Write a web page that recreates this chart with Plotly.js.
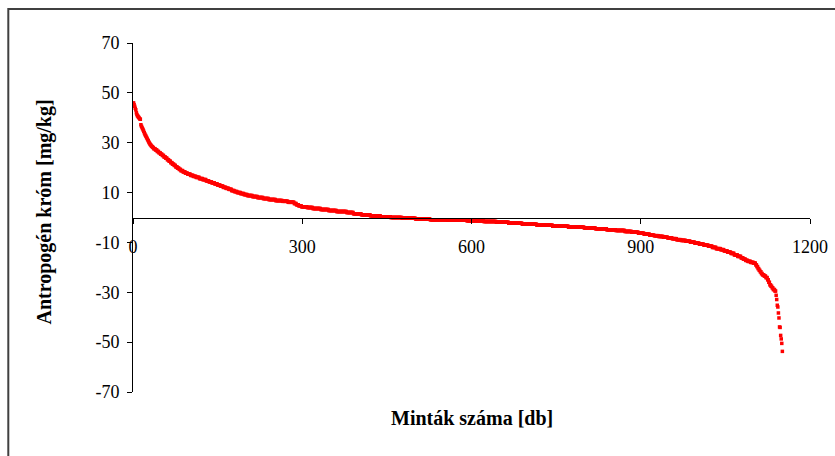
<!DOCTYPE html>
<html>
<head>
<meta charset="utf-8">
<script src="https://cdn.plot.ly/plotly-3.0.1.min.js"></script>
<style>
  html, body { margin: 0; padding: 0; background: #ffffff; }
  #chart { width: 835px; height: 456px; }
</style>
</head>
<body>
<div id="chart"></div>
<script>
// Anthropogenic chromium per sample, ordered from highest to lowest.
// The steep start is listed point by point.
const headValues = [46.0, 45.3, 44.6, 43.8, 43.2, 42.0, 41.3, 40.8, 40.5, 40.2, 39.9, 39.6,
  39.4, 37.2, 36.6, 36.1, 35.6, 35.1, 34.6, 34.0, 33.5, 33.0, 32.6, 32.1, 31.7, 31.2,
  30.8, 30.3, 29.9, 29.5, 29.2, 28.9, 28.6, 28.4, 28.2, 28.0];

// The long middle part comes in runs of equal values: level and number of samples.
const levelValues = [27.6, 27.1, 26.5, 26.0, 25.4, 24.9, 24.3, 23.8, 23.2, 22.6, 22.0, 21.4,
  20.9, 20.3, 19.8, 19.3, 18.8, 18.3, 17.8, 17.4, 16.9, 16.5, 16.1, 15.6, 15.2, 14.7, 14.3,
  13.9, 13.5, 13.0, 12.6, 12.1, 11.7, 11.3, 10.8, 10.4, 10.0, 9.6, 9.2, 8.8, 8.4, 8.0, 7.6,
  7.2, 6.8, 6.5, 6.1, 5.6, 5.1, 4.7, 4.3, 4.0, 3.6, 3.2, 2.8, 2.4, 2.0, 1.5, 1.1, 0.7, 0.3,
  0.0, -0.3, -0.6, -0.9, -1.1, -1.3, -1.6, -1.9, -2.3, -2.7, -3.1, -3.5, -3.9, -4.2, -4.5,
  -4.9, -5.2, -5.6, -5.9, -6.3, -6.7, -7.1, -7.3, -7.6, -7.9, -8.2, -8.5, -8.9, -9.2, -9.5,
  -9.9, -10.3, -10.7, -11.1, -11.5, -12.0, -12.5, -12.9, -13.4, -13.9, -14.4, -15.0, -15.6,
  -16.2, -16.7, -17.2, -17.6, -18.0, -18.3, -19.0, -19.7, -20.5, -21.2, -21.8, -22.5,
  -23.0, -23.5, -24.1, -25.0, -26.0, -27.0, -27.6, -28.2, -28.9, -29.5];
const levelCounts = [3, 3, 3, 3, 3, 3, 3, 3, 3, 3, 3, 3,
  3, 3, 3, 3, 4, 4, 4, 5, 5, 5, 6, 6, 6, 5, 5,
  5, 5, 5, 5, 5, 5, 5, 5, 5, 6, 6, 6, 9, 9, 10, 10,
  12, 12, 10, 11, 4, 4, 5, 10, 10, 14, 14, 14, 18, 12, 14, 16, 18, 18,
  20, 24, 26, 30, 35, 30, 22, 22, 24, 26, 28, 28, 28, 20, 20,
  16, 16, 12, 12, 10, 10, 8, 8, 8, 8, 8, 8, 8, 8, 8,
  8, 8, 8, 8, 7, 7, 8, 6, 6, 6, 6, 6, 6,
  4, 4, 4, 5, 5, 4, 2, 2, 2, 2, 2, 2,
  3, 3, 3, 2, 2, 2, 2, 2, 3, 2];

// The scattered lowest samples, one by one.
const tailValues = [-31.2, -32.9, -35.2, -35.9, -38.3, -40.3, -43.9, -44.1, -47.3, -48.7,
  -50.5, -53.7];

const xTicks = [0, 300, 600, 900, 1200];
const yTicks = [-70, -50, -30, -10, 10, 30, 50, 70];
const xTitle = 'Minták száma [db]';
const yTitle = 'Antropogén króm [mg/kg]';

// Expand into one value per sample, numbered from 1.
const chromium = headValues.slice();
levelValues.forEach((v, i) => {
  for (let k = 0; k < levelCounts[i]; k++) chromium.push(v);
});
tailValues.forEach(v => chromium.push(v));
const sampleNo = chromium.map((_, i) => i + 1);

const serif = '"Liberation Serif", "Times New Roman", Times, serif';

const trace = {
  type: 'scatter',
  mode: 'markers',
  x: sampleNo,
  y: chromium,
  marker: { symbol: 'square', size: 3.5, color: '#ff0000', line: { width: 0 } },
  hoverinfo: 'skip'
};

const layout = {
  width: 835,
  height: 456,
  margin: { l: 133, r: 25, t: 43, b: 64, pad: 0 },
  paper_bgcolor: '#ffffff',
  plot_bgcolor: '#ffffff',
  showlegend: false,
  font: { family: serif, size: 18, color: '#000000' },
  xaxis: {
    range: [0, 1200],
    tickmode: 'array',
    tickvals: xTicks,
    ticktext: xTicks.map(String),
    anchor: 'free',
    position: 0.5,
    showline: true,
    linecolor: '#000000',
    linewidth: 1,
    ticks: 'outside',
    ticklen: 5,
    tickwidth: 1,
    tickcolor: '#000000',
    ticklabelstandoff: 8,
    showgrid: false,
    zeroline: false,
    tickfont: { family: serif, size: 18, color: '#000000' }
  },
  yaxis: {
    range: [-70, 70],
    tickmode: 'array',
    tickvals: yTicks,
    ticktext: yTicks.map(String),
    showline: true,
    linecolor: '#000000',
    linewidth: 1,
    ticks: 'outside',
    ticklen: 5,
    tickwidth: 1,
    tickcolor: '#000000',
    ticklabelstandoff: 4,
    showgrid: false,
    zeroline: false,
    tickfont: { family: serif, size: 18, color: '#000000' }
  },
  annotations: [
    {
      text: '<b>' + xTitle + '</b>',
      xref: 'paper', yref: 'paper',
      x: 0.5, y: -0.0745,
      xanchor: 'center', yanchor: 'middle',
      showarrow: false,
      font: { family: serif, size: 20, color: '#000000' }
    },
    {
      text: '<b>' + yTitle + '</b>',
      xref: 'paper', yref: 'paper',
      x: -0.13, y: 0.517,
      xanchor: 'center', yanchor: 'middle',
      textangle: -90,
      showarrow: false,
      font: { family: serif, size: 20, color: '#000000' }
    }
  ],
  shapes: [
    {
      // chart frame
      type: 'rect',
      xref: 'paper', yref: 'paper',
      x0: (8.3 - 133) / 677, x1: (900 - 133) / 677,
      y0: (392 - 520) / 349, y1: (392 - 9) / 349,
      line: { color: '#404040', width: 2 },
      fillcolor: 'rgba(0,0,0,0)',
      layer: 'above'
    }
  ]
};

Plotly.newPlot('chart', [trace], layout, { displayModeBar: false, staticPlot: true });
</script>
</body>
</html>
